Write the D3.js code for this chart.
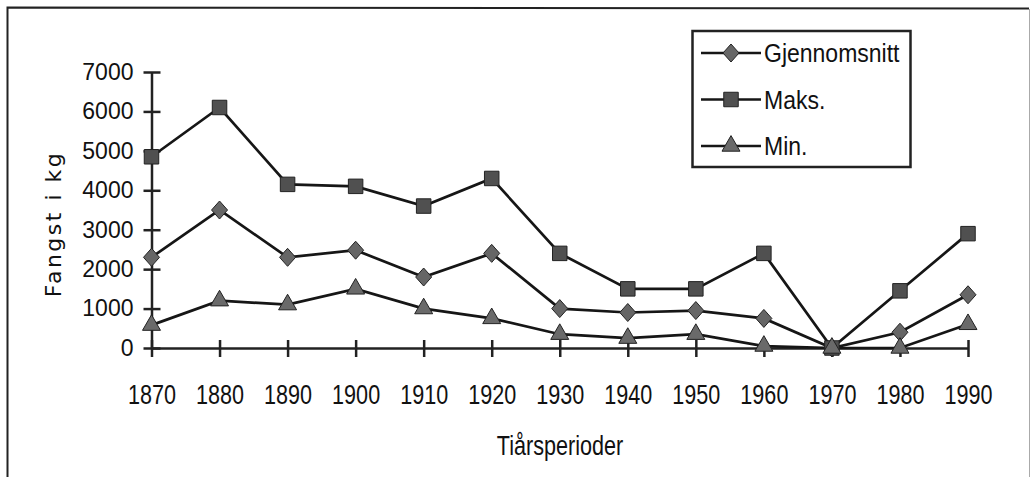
<!DOCTYPE html>
<html>
<head>
<meta charset="utf-8">
<script src="https://cdn.jsdelivr.net/npm/d3@7"></script>
<style>
  body { margin: 0; background: #fff; }
  text { fill: #111; }
</style>
</head>
<body>
<div id="chart-area"></div>
<script>
// decades and catch values (kg)
var years = [1870, 1880, 1890, 1900, 1910, 1920, 1930, 1940, 1950, 1960, 1970, 1980, 1990]
var gjennomsnitt = [2300, 3500, 2300, 2480, 1800, 2400, 1000, 900, 950, 750, 0, 400, 1350]
var maks = [4850, 6100, 4150, 4100, 3600, 4300, 2400, 1500, 1500, 2400, 0, 1450, 2900]
var minimum = [580, 1200, 1100, 1500, 1000, 750, 350, 250, 350, 50, 0, 0, 600]
var yTicks = [0, 1000, 2000, 3000, 4000, 5000, 6000, 7000]
var seriesNames = ["Gjennomsnitt", "Maks.", "Min."]
var seriesShapes = ["diamond", "square", "triangle"]

var cw = 1031
var ch = 477
var sans = "'Liberation Sans', Arial, sans-serif"

var svg = d3.select("#chart-area").append("svg")
    .attr("width", cw)
    .attr("height", ch)

// outer frame (no bottom edge)
svg.append("path")
    .attr("d", "M7.5,477 L7.5,7.5 L1029,8.5")
    .attr("fill", "none")
    .attr("stroke", "#222")
    .attr("stroke-width", 2)
svg.append("line")
    .attr("x1", 1029.5).attr("x2", 1029.5)
    .attr("y1", 9).attr("y2", 477)
    .attr("stroke", "#aaa")
    .attr("stroke-width", 1)

var x = d3.scalePoint()
    .domain(years)
    .range([151.5, 968])

var y = d3.scaleLinear()
    .domain([0, 7000])
    .range([348, 72])

var g = svg.append("g")

// y axis
var yAxis = d3.axisLeft(y).tickValues(yTicks).tickSize(0).tickPadding(18).tickFormat(d3.format("d"))
var yAxisGroup = g.append("g")
    .attr("transform", "translate(151.5,0)")
    .call(yAxis)
yAxisGroup.attr("font-family", sans).attr("font-size", 23)
yAxisGroup.select(".domain").attr("stroke", "#222").attr("stroke-width", 2.5)
yAxisGroup.selectAll(".tick text").attr("fill", "#111")
yAxisGroup.selectAll(".tick").append("line")
    .attr("x1", -8).attr("x2", 9)
    .attr("stroke", "#222")
    .attr("stroke-width", 2.5)

// x axis
var xAxis = d3.axisBottom(x).tickSize(0).tickPadding(0).tickFormat(d => "")
var xAxisGroup = g.append("g")
    .attr("transform", "translate(0,348)")
    .call(xAxis)
xAxisGroup.attr("font-family", sans).attr("font-size", 27)
xAxisGroup.select(".domain").attr("stroke", "#222").attr("stroke-width", 2.5)
xAxisGroup.selectAll(".tick").append("line")
    .attr("y1", -8).attr("y2", 9)
    .attr("stroke", "#222")
    .attr("stroke-width", 2.5)
xAxisGroup.selectAll(".tick text").remove()
xAxisGroup.selectAll(".tick").append("text")
    .attr("transform", "translate(0,56) scale(0.8,1)")
    .attr("text-anchor", "middle")
    .attr("fill", "#111")
    .text(d => d)

// axis titles
svg.append("text")
    .attr("transform", "translate(560,455) scale(0.8,1)")
    .attr("text-anchor", "middle")
    .attr("font-family", sans)
    .attr("font-size", 27)
    .text("Tiårsperioder")

svg.append("text")
    .attr("transform", "translate(61,224) rotate(-90)")
    .attr("text-anchor", "middle")
    .attr("font-family", "'DejaVu Sans', Verdana, sans-serif")
    .attr("font-size", 22)
    .attr("letter-spacing", "2.5px")
    .text("Fangst i kg")

// series
var series = [gjennomsnitt, maks, minimum].map((vals, i) => ({
    name: seriesNames[i],
    shape: seriesShapes[i],
    values: vals.map((v, j) => ({year: years[j], value: v}))
}))

var line = d3.line()
    .x(d => x(d.year))
    .y(d => y(d.value))

var markerPath = {
    diamond: "M0,-9 L8,0 L0,9 L-8,0 Z",
    square: d3.symbol().type(d3.symbolSquare).size(210)(),
    triangle: d3.symbol().type(d3.symbolTriangle).size(140)()
}
var markerFill = {diamond: "#666", square: "#505050", triangle: "#6a6a6a"}

function marker(sel, shape) {
    sel.append("path")
        .attr("d", markerPath[shape])
        .attr("fill", markerFill[shape])
        .attr("stroke", "#222")
        .attr("stroke-width", 1)
}

series.forEach(s => {
    g.append("path")
        .datum(s.values)
        .attr("fill", "none")
        .attr("stroke", "#161616")
        .attr("stroke-width", 2.7)
        .attr("d", line)
})

series.forEach(s => {
    g.selectAll(null)
        .data(s.values)
        .enter()
        .append("g")
        .attr("transform", d => `translate(${x(d.year)},${y(d.value)})`)
        .call(marker, s.shape)
})

// legend
var legend = svg.append("g")
legend.append("rect")
    .attr("x", 692.5).attr("y", 31)
    .attr("width", 218).attr("height", 136)
    .attr("fill", "#fff")
    .attr("stroke", "#222")
    .attr("stroke-width", 2.5)

var legendItems = legend.selectAll(".legend-item")
    .data(series)
    .enter()
    .append("g")
    .attr("class", "legend-item")
    .attr("transform", (d, i) => `translate(0, ${53 + i * 46.5})`)

legendItems.append("line")
    .attr("x1", 701).attr("x2", 761)
    .attr("stroke", "#161616")
    .attr("stroke-width", 2.5)

legendItems.append("g")
    .attr("transform", "translate(731,0)")
    .each(function (d) { d3.select(this).call(marker, d.shape) })

legendItems.append("text")
    .attr("transform", "translate(764,9) scale(0.92,1)")
    .attr("font-family", sans)
    .attr("font-size", 25)
    .text(d => d.name)
</script>
</body>
</html>
